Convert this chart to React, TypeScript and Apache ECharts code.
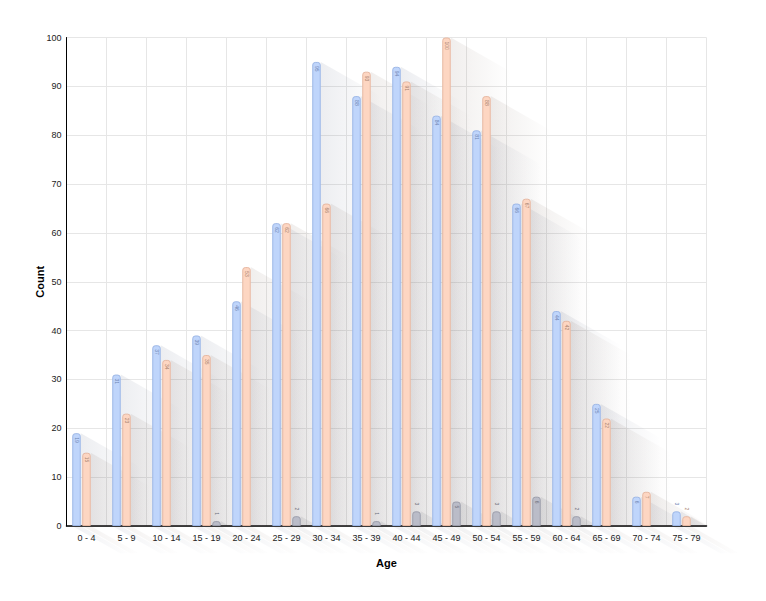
import { useRef, useEffect } from 'react';
import * as echarts from 'echarts';

const categories = [
  '0 - 4', '5 - 9', '10 - 14', '15 - 19', '20 - 24', '25 - 29', '30 - 34', '35 - 39',
  '40 - 44', '45 - 49', '50 - 54', '55 - 59', '60 - 64', '65 - 69', '70 - 74', '75 - 79',
];
const blueValues = [19, 31, 37, 39, 46, 62, 95, 88, 94, 84, 81, 66, 44, 25, 6, 3];
const orangeValues = [15, 23, 34, 35, 53, 62, 66, 93, 91, 100, 88, 67, 42, 22, 7, 2];
const grayValues = [null, null, null, 1, null, 2, null, 1, 3, 5, 3, 6, 2, null, null, null];

const BAR_W = 8.5;
const BAR_GAP = 1.5;
const SHADOW_LEN = 60;
const SHADOW_SLOPE = 0.57;

const palette = [
  { fill: '#bfd5fb', border: '#9db7e6', label: '#6f86b4', shadow: '60,72,105' },
  { fill: '#fdd6c2', border: '#e6b8a2', label: '#a9836f', shadow: '105,80,65' },
  { fill: '#babcc8', border: '#9c9eab', label: '#6f717c', shadow: '60,62,72' },
];

function barData(values: (number | null)[]) {
  return values.map((v) => {
    if (v === null) return '-';
    if (v < 5) {
      return { value: v, label: { position: 'top', align: 'right', distance: 6 } };
    }
    return v;
  });
}

function shadowSeries(values: (number | null)[], idx: number) {
  const rgb = palette[idx].shadow;
  return {
    type: 'custom',
    z: 1,
    silent: true,
    clip: false,
    encode: { x: 0, y: 1 },
    data: values
      .map((v, i) => (v === null ? null : [i, v]))
      .filter((d) => d !== null),
    renderItem: (_params: any, api: any) => {
      const cat = api.value(0);
      const val = api.value(1);
      const top = api.coord([cat, val]);
      const base = api.coord([cat, 0]);
      const groupW = 3 * BAR_W + 2 * BAR_GAP;
      const x0 = top[0] - groupW / 2 + idx * (BAR_W + BAR_GAP);
      const x1 = x0 + BAR_W;
      const yTop = top[1];
      const yB = base[1];
      const h = yB - yTop;
      const grad = (sx: number, a: number) =>
        new echarts.graphic.LinearGradient(
          sx, 0, sx + SHADOW_LEN, 0,
          [
            { offset: 0, color: `rgba(${rgb},${a})` },
            { offset: 1, color: `rgba(${rgb},0)` },
          ],
          true
        );
      return {
        type: 'group',
        children: [
          {
            type: 'polygon',
            shape: {
              points: [
                [x1, yTop],
                [x1 + h / SHADOW_SLOPE, yB],
                [x1, yB],
              ],
            },
            style: { fill: grad(x1, 0.095) },
          },
          {
            type: 'polygon',
            shape: {
              points: [
                [x0, yB],
                [x1, yB],
                [x1 + SHADOW_LEN * 0.8, yB + SHADOW_LEN * 0.8 * SHADOW_SLOPE],
                [x0 + SHADOW_LEN * 0.8, yB + SHADOW_LEN * 0.8 * SHADOW_SLOPE],
              ],
            },
            style: { fill: grad(x0, 0.08) },
          },
        ],
      };
    },
  };
}

function barSeries(name: string, values: (number | null)[], idx: number) {
  const c = palette[idx];
  return {
    name,
    type: 'bar',
    z: 2,
    barWidth: BAR_W,
    barGap: `${(BAR_GAP / BAR_W) * 100}%`,
    itemStyle: {
      color: c.fill,
      borderColor: c.border,
      borderWidth: 1,
      borderRadius: [2.5, 2.5, 0, 0],
    },
    label: {
      show: true,
      position: 'insideTop',
      distance: 4,
      rotate: -90,
      align: 'left',
      verticalAlign: 'middle',
      fontSize: 5,
      color: c.label,
      fontFamily: 'Liberation Sans, Arial, sans-serif',
    },
    data: barData(values),
  };
}

export default function App() {
  const chartRef = useRef<HTMLDivElement>(null);

  useEffect(() => {
    document.body.style.margin = '0';
    let chart: echarts.ECharts | undefined;
    if (chartRef.current) {
      chart = echarts.init(chartRef.current, undefined, { renderer: 'svg' });
      chart.setOption({
        animation: false,
        backgroundColor: '#ffffff',
        textStyle: { fontFamily: 'Liberation Sans, Arial, sans-serif' },
        grid: { left: 66.5, right: 59.5, top: 37.5, bottom: 75 },
        xAxis: {
          type: 'category',
          data: categories,
          name: 'Age',
          nameLocation: 'middle',
          nameGap: 31,
          nameMoveOverlap: false,
          nameTextStyle: { fontSize: 11, fontWeight: 'bold', color: '#000' },
          axisLine: { lineStyle: { color: '#000', width: 1.5 } },
          axisTick: { show: false },
          axisLabel: { fontSize: 9, color: '#222', margin: 7, interval: 0 },
          splitLine: { show: true, lineStyle: { color: '#e6e6e6', width: 1 } },
        },
        yAxis: {
          type: 'value',
          min: 0,
          max: 100,
          interval: 10,
          name: 'Count',
          nameLocation: 'middle',
          nameGap: 21,
          nameMoveOverlap: false,
          nameTextStyle: { fontSize: 11, fontWeight: 'bold', color: '#000' },
          axisLine: { show: true, lineStyle: { color: '#000', width: 1 } },
          axisTick: { show: false },
          axisLabel: { fontSize: 9, color: '#222', margin: 5 },
          splitLine: { lineStyle: { color: '#e6e6e6', width: 1 } },
        },
        series: [
          shadowSeries(blueValues, 0),
          shadowSeries(orangeValues, 1),
          shadowSeries(grayValues, 2),
          barSeries('Group 1', blueValues, 0),
          barSeries('Group 2', orangeValues, 1),
          barSeries('Group 3', grayValues, 2),
        ],
      });
    }
    const handleResize = () => chart?.resize();
    window.addEventListener('resize', handleResize);
    return () => {
      chart?.dispose();
      window.removeEventListener('resize', handleResize);
    };
  }, []);

  return <div ref={chartRef} style={{ width: 766, height: 601 }} />;
}
